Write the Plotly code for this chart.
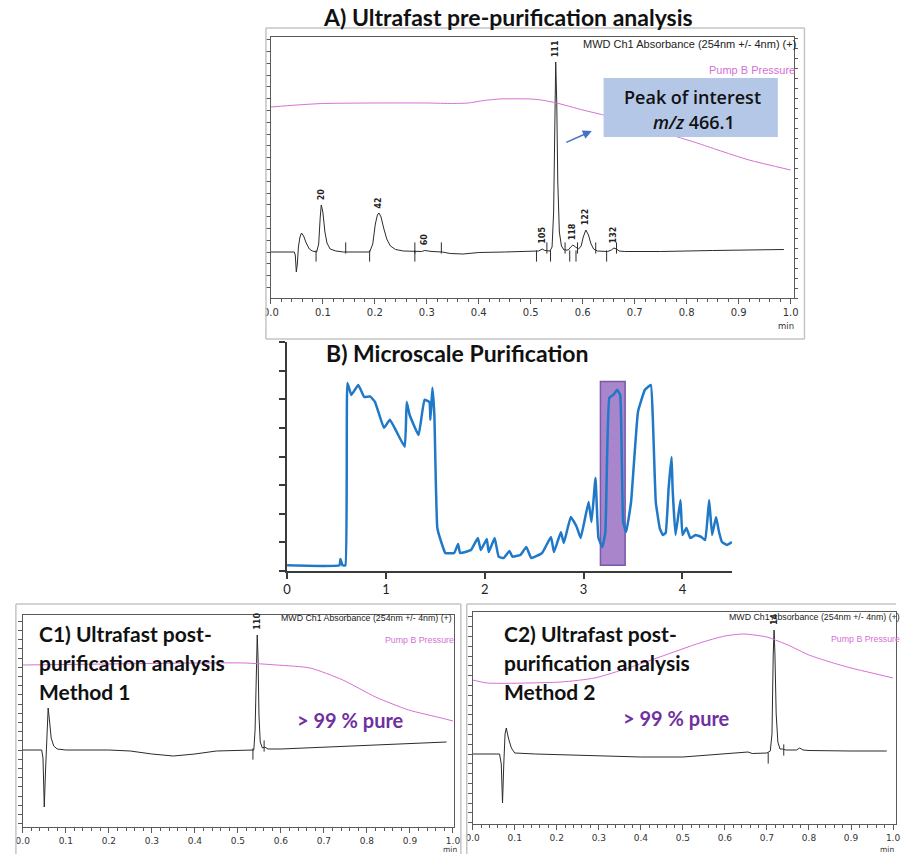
import plotly.graph_objects as go

W, H = 902, 854


def fx(px):
    return px / W


def fy(py):
    return 1 - py / H


def xdom(left, right):
    return [left / W, min(right / W, 1.0)]


def ydom(top, bottom):
    return [1 - bottom / H, 1 - top / H]


# ---------------- Panel A: ultrafast pre-purification analysis ----------------
a_time = [0.000, 0.045, 0.047, 0.049, 0.051, 0.053, 0.056, 0.059, 0.063, 0.068, 0.074, 0.080,
          0.088, 0.092, 0.095, 0.097, 0.100, 0.104, 0.108, 0.114, 0.125, 0.140,
          0.190, 0.196, 0.201, 0.205, 0.208, 0.212, 0.217, 0.223, 0.230, 0.240, 0.255, 0.275,
          0.290, 0.296, 0.310, 0.330, 0.345, 0.370, 0.400, 0.450, 0.500, 0.515, 0.522, 0.527,
          0.537, 0.541, 0.544, 0.546, 0.548, 0.550, 0.552, 0.555, 0.559, 0.564,
          0.572, 0.577, 0.581, 0.586, 0.592, 0.597, 0.601, 0.606, 0.611, 0.616, 0.621, 0.628,
          0.640, 0.648, 0.655, 0.660, 0.665, 0.670, 0.680, 0.750, 0.850, 0.950, 0.987]
a_abs = [0, 0, -3, -20, -12, 5, 15, 19, 16, 9, 3, 1,
         0, 8, 35, 47, 40, 20, 9, 3, 1, 0,
         0, 8, 28, 37, 39, 35, 24, 13, 6, 2.5, 1, 0.5,
         0.5, 1.5, 0.5, 0, -1.5, -2, -0.5, 0, 0.5, 1, 3, 1.5,
         1, 5, 40, 150, 190, 150, 70, 20, 6, 2,
         2, 5, 7, 5, 3, 6, 15, 22, 17, 8, 3, 1,
         0.5, 0.5, 2, 4, 3, 1, 0.5, 0.5, 1.5, 2, 2.5]

a_pres_time = [0.00, 0.05, 0.10, 0.20, 0.30, 0.35, 0.38, 0.41, 0.44, 0.50, 0.52, 0.55,
               0.60, 0.64, 0.70, 0.77, 0.82, 0.86, 0.92, 1.00]
a_pres = [191, 193, 194.5, 195, 195, 194.5, 195, 197.5, 199, 199, 198, 195,
          188, 183, 174, 163, 155, 148, 138, 128]

a_peak_time = [0.097, 0.208, 0.296, 0.522, 0.548, 0.581, 0.606, 0.660]
a_peak_apex = [47, 39, 1.5, 3, 190, 7, 22, 4]
a_peak_id = ["20", "42", "60", "105", "111", "118", "122", "132"]

a_event_down = [0.087, 0.190, 0.277, 0.511, 0.538, 0.575, 0.587, 0.646]
a_event_up = [0.144, 0.277, 0.328, 0.531, 0.566, 0.590, 0.625, 0.665]

# ---------------- Panel B: microscale purification ----------------
b_time = [0.00, 0.53, 0.54, 0.56, 0.59, 0.61, 0.65, 0.72, 0.78, 0.84, 0.89, 0.98, 1.04,
          1.19, 1.21, 1.24, 1.33, 1.39, 1.44, 1.45, 1.47, 1.49, 1.52, 1.58, 1.60, 1.69,
          1.73, 1.75, 1.86, 1.93, 1.96, 2.02, 2.04, 2.10, 2.14, 2.19, 2.25, 2.28, 2.36,
          2.42, 2.47, 2.58, 2.67, 2.70, 2.77, 2.80, 2.87, 2.93, 2.97, 3.05, 3.08, 3.12,
          3.15, 3.19, 3.22, 3.26, 3.30, 3.34, 3.37, 3.40, 3.43, 3.48, 3.55, 3.62, 3.68,
          3.70, 3.73, 3.77, 3.80, 3.83, 3.86, 3.89, 3.90, 3.93, 3.98, 4.00, 4.04, 4.08,
          4.13, 4.19, 4.23, 4.27, 4.30, 4.34, 4.37, 4.40, 4.45, 4.50]
b_signal = [0.2, 0.2, 0.42, 0.2, 0.2, 6.57, 6.15, 6.5, 6.08, 6.1, 5.9, 5.0, 5.28,
            4.34, 5.9, 5.45, 4.75, 5.98, 5.9, 5.28, 6.4, 5.45, 1.5, 0.8, 0.63, 0.63,
            0.94, 0.63, 0.73, 1.15, 0.73, 1.12, 0.66, 1.15, 0.5, 0.45, 0.7, 0.5, 0.56,
            0.84, 0.45, 0.63, 1.19, 0.66, 1.36, 0.98, 1.89, 1.54, 1.15, 2.41, 1.71, 3.25,
            1.15, 0.84, 1.36, 6.05, 6.15, 6.33, 6.15, 1.71, 1.36, 2.41, 5.56, 6.33, 6.5,
            5.35, 2.41, 1.5, 1.26, 1.33, 2.9, 3.98, 2.9, 1.26, 2.48, 1.26, 1.5, 1.15,
            1.26, 1.19, 1.08, 2.48, 1.26, 1.89, 1.36, 1.01, 0.91, 1.01]
b_fraction_time = [3.17, 3.42]
b_fraction_signal = [0.2, 6.62]

# ---------------- Panel C1: post-purification, method 1 ----------------
c1_time = [0.000, 0.044, 0.047, 0.050, 0.053, 0.056, 0.059, 0.062, 0.066, 0.072, 0.080, 0.100,
           0.200, 0.250, 0.300, 0.350, 0.400, 0.450, 0.500, 0.537, 0.540, 0.543, 0.545,
           0.547, 0.549, 0.552, 0.557, 0.562, 0.570, 0.600, 0.700, 0.800, 0.900, 0.985]
c1_abs = [0, 0, -8, -57, -20, 15, 42, 30, 12, 4, 1, 0,
          0, -1, -4, -6, -4, -1, 0, 0, 20, 90, 115,
          90, 35, 8, 2, 3, 1, 1, 3, 5, 7, 8]
c1_pres_time = [0.00, 0.20, 0.40, 0.515, 0.59, 0.668, 0.744, 0.82, 0.897, 0.973, 1.00]
c1_pres = [162, 163, 164, 164, 162, 159, 147, 130, 117, 109, 106]
c1_peak_time = [0.545]
c1_peak_apex = [115]
c1_peak_id = ["110"]
c1_event_down = [0.535]
c1_event_up = [0.561]

# ---------------- Panel C2: post-purification, method 2 ----------------
c2_time = [0.000, 0.064, 0.068, 0.071, 0.074, 0.077, 0.080, 0.085, 0.092, 0.100, 0.150,
           0.250, 0.300, 0.400, 0.500, 0.600, 0.640, 0.655, 0.665, 0.700, 0.708, 0.712,
           0.715, 0.717, 0.719, 0.722, 0.726, 0.731, 0.737, 0.745, 0.770, 0.778, 0.786,
           0.800, 0.900, 0.985]
c2_abs = [0, 0, -10, -49, -10, 20, 26, 16, 6, 1, 0,
          -1, -2, -3, -3, 0, 1, 2, 0.5, 1, 3, 20,
          100, 124, 100, 40, 12, 5, 5, 4, 4, 6, 4,
          3.5, 3, 3]
c2_pres_time = [0.00, 0.035, 0.21, 0.29, 0.37, 0.445, 0.54, 0.60, 0.645, 0.70, 0.72, 0.75,
                0.80, 0.85, 0.90, 0.95, 1.00]
c2_pres = [144, 141, 142, 146, 156, 167, 181, 188, 190, 187, 184, 179,
           169, 162, 156, 151, 146]
c2_peak_time = [0.717]
c2_peak_apex = [124]
c2_peak_id = ["14"]
c2_event_down = [0.703]
c2_event_up = [0.740]

UV_COLOR = "#2b2b2b"
PRES_COLOR = "#d46fd4"
AXIS_COLOR = "#5a5a5a"
TICK_FONT = dict(family="DejaVu Sans", size=9, color="#333333")
BIG_TITLE_FONT = dict(family="Lato", size=23, color="#111111")
SUB_TITLE_FONT = dict(family="Lato", size=21, color="#111111")

fig = go.Figure()


def chromatogram(t, v, xa, ya):
    fig.add_trace(go.Scatter(x=t, y=v, xaxis=xa, yaxis=ya, mode="lines",
                             line=dict(color=UV_COLOR, width=1), hoverinfo="skip"))


def pressure(t, v, xa, ya):
    fig.add_trace(go.Scatter(x=t, y=v, xaxis=xa, yaxis=ya, mode="lines",
                             line=dict(color=PRES_COLOR, width=1, shape="spline",
                                       smoothing=0.6),
                             hoverinfo="skip"))


def events(down, up, xa, ya):
    fig.add_trace(go.Scatter(x=down, y=[-4] * len(down), xaxis=xa, yaxis=ya, mode="markers",
                             marker=dict(symbol="line-ns", size=8,
                                         line=dict(color=UV_COLOR, width=1)),
                             hoverinfo="skip"))
    fig.add_trace(go.Scatter(x=up, y=[4] * len(up), xaxis=xa, yaxis=ya, mode="markers",
                             marker=dict(symbol="line-ns", size=8,
                                         line=dict(color=UV_COLOR, width=1)),
                             hoverinfo="skip"))


# Panel A traces
pressure(a_pres_time, a_pres, "x", "y2")
chromatogram(a_time, a_abs, "x", "y")
events(a_event_down, a_event_up, "x", "y")

# Panel B trace
fig.add_trace(go.Scatter(x=b_time, y=b_signal, xaxis="x3", yaxis="y3", mode="lines",
                         line=dict(color="#1f78c8", width=2.5, shape="spline",
                                   smoothing=0.3),
                         hoverinfo="skip"))

# Panel C1 traces
pressure(c1_pres_time, c1_pres, "x4", "y5")
chromatogram(c1_time, c1_abs, "x4", "y4")
events(c1_event_down, c1_event_up, "x4", "y4")

# Panel C2 traces
pressure(c2_pres_time, c2_pres, "x6", "y7")
chromatogram(c2_time, c2_abs, "x6", "y6")
events(c2_event_down, c2_event_up, "x6", "y6")


def time_axis(domain, span, anchor, font_size=9):
    return dict(domain=domain, range=[0, span], anchor=anchor, showline=True,
                linecolor=AXIS_COLOR, linewidth=1, mirror=True, ticks="outside",
                ticklen=5, tickcolor=AXIS_COLOR, tick0=0, dtick=0.1, tickformat=".1f",
                minor=dict(dtick=0.02, ticks="outside", ticklen=3, tickcolor=AXIS_COLOR),
                tickfont=dict(TICK_FONT, size=font_size), showgrid=False, zeroline=False,
                fixedrange=True)


def signal_axis(domain, rng, anchor, dtick, mirror=False):
    return dict(domain=domain, range=rng, anchor=anchor, showline=True,
                linecolor=AXIS_COLOR, linewidth=1, mirror=mirror, ticks="outside",
                ticklen=4, tickcolor=AXIS_COLOR, tick0=0, dtick=dtick,
                showticklabels=False, showgrid=False, zeroline=False, fixedrange=True)


layout = dict(
    width=W, height=H, margin=dict(l=0, r=0, t=0, b=0),
    paper_bgcolor="white", plot_bgcolor="rgba(0,0,0,0)", showlegend=False,
    xaxis=time_axis(xdom(267, 798), 531 / 528, "y", 10),
    yaxis=signal_axis(ydom(37, 298), [-46, 215], "x", 11.8),
    yaxis2=dict(overlaying="y", side="right", anchor="x", range=[0, 261], showline=True,
                linecolor=AXIS_COLOR, linewidth=1, ticks="outside", ticklen=3,
                tickcolor=AXIS_COLOR, dtick=10, showticklabels=False, showgrid=False,
                zeroline=False, fixedrange=True),
    xaxis3=dict(domain=xdom(283.5, 735.3), range=[0, 4.5], anchor="y3", showline=True,
                linecolor="#3a3a3a", linewidth=1.5, ticks="outside", ticklen=6,
                tickcolor="#3a3a3a", tickwidth=1.5, dtick=1, tick0=0,
                tickfont=dict(family="Lato", size=13, color="#222222"),
                showgrid=False, zeroline=False, fixedrange=True),
    yaxis3=dict(domain=ydom(342, 571), range=[0, 8], anchor="x3", showline=True,
                linecolor="#3a3a3a", linewidth=1.5, ticks="outside", ticklen=6,
                tickcolor="#3a3a3a", tickwidth=1.5, dtick=1, tick0=0,
                showticklabels=False, showgrid=False, zeroline=False, fixedrange=True),
    xaxis4=time_axis(xdom(15, 453), 438 / 437, "y4"),
    yaxis4=signal_axis(ydom(615, 827), [-77, 135], "x4", 9.2, mirror=True),
    yaxis5=dict(overlaying="y4", anchor="x4", range=[0, 212], visible=False,
                fixedrange=True),
    xaxis6=time_axis(xdom(472, 902), 430 / 427, "y6"),
    yaxis6=signal_axis(ydom(612, 824), [-70, 142], "x6", 9.8, mirror=True),
    yaxis7=dict(overlaying="y6", anchor="x6", range=[0, 212], visible=False,
                fixedrange=True),
)
fig.update_layout(**layout)

shapes = []


def frame_line(x0, y0, x1, y1, color="#c4c4c4", width=1.5):
    shapes.append(dict(type="line", xref="paper", yref="paper", x0=fx(x0), y0=fy(y0),
                       x1=fx(x1), y1=fy(y1), line=dict(color=color, width=width)))


# panel frames
frame_line(262, 28, 809, 28)
frame_line(262, 28, 262, 339)
frame_line(809, 28, 809, 339)
frame_line(262, 339, 809, 339)
frame_line(8, 604, 460, 604)
frame_line(8, 604, 8, 854)
frame_line(460, 604, 460, 854)
frame_line(466, 604, 902, 604)
frame_line(466, 604, 466, 854)

# white margins that trim the clipped tick labels at the left edges
shapes.append(dict(type="rect", xref="paper", yref="paper", x0=fx(240), x1=fx(261.2),
                   y0=fy(322), y1=fy(300), fillcolor="white", line=dict(width=0),
                   layer="above"))
shapes.append(dict(type="rect", xref="paper", yref="paper", x0=0, x1=fx(7.2),
                   y0=fy(850), y1=fy(830), fillcolor="white", line=dict(width=0),
                   layer="above"))

# collected fraction window
shapes.append(dict(type="rect", xref="x3", yref="y3",
                   x0=b_fraction_time[0], x1=b_fraction_time[1],
                   y0=b_fraction_signal[0], y1=b_fraction_signal[1],
                   fillcolor="#a985cc", line=dict(color="#7b58a8", width=1.5),
                   layer="below"))

# callout box
shapes.append(dict(type="rect", xref="paper", yref="paper", x0=fx(605), x1=fx(782),
                   y0=fy(137), y1=fy(78), fillcolor="#b4c7e7", line=dict(width=0),
                   layer="above"))
fig.update_layout(shapes=shapes)

ann = []


def text(x, y, s, font, xanchor="center", yanchor="middle"):
    ann.append(dict(x=fx(x), y=fy(y), xref="paper", yref="paper", text=s, showarrow=False,
                    font=font, xanchor=xanchor, yanchor=yanchor, borderpad=0))


text(508, 17, "<b>A) Ultrafast pre-purification analysis</b>", BIG_TITLE_FONT)
text(456, 353, "<b>B) Microscale Purification</b>", BIG_TITLE_FONT)

for left, label in [(30, "C1"), (503, "C2")]:
    method = "1" if label == "C1" else "2"
    text(left, 633, f"<b>{label}) Ultrafast post-</b>", SUB_TITLE_FONT, "left")
    text(left, 662, "<b>purification analysis</b>", SUB_TITLE_FONT, "left")
    text(left, 691, f"<b>Method {method}</b>", SUB_TITLE_FONT, "left")

PURE_FONT = dict(family="Lato", size=20, color="#7030a0")
text(293, 720, "<b>&gt; 99 % pure</b>", PURE_FONT, "left")
text(624, 718, "<b>&gt; 99 % pure</b>", PURE_FONT, "left")

BOX_FONT = dict(family="Open Sans", size=18, color="#111111", weight=600)
text(695, 97, "Peak of interest", BOX_FONT)
text(697, 122, "<i>m/z</i> 466.1", BOX_FONT)

MWD = "MWD Ch1 Absorbance (254nm +/- 4nm) (+)"
text(583, 44, MWD, dict(family="Liberation Sans", size=11, color="#222222"), "left")
text(711, 70, "Pump B Pressure", dict(family="Liberation Sans", size=11, color=PRES_COLOR), "left")
text(276, 618, MWD, dict(family="Liberation Sans", size=8.8, color="#222222"), "left")
text(382, 640, "Pump B Pressure", dict(family="Liberation Sans", size=8.8, color=PRES_COLOR), "left")
text(731, 617, MWD, dict(family="Liberation Sans", size=8.8, color="#222222"), "left")
text(835, 639, "Pump B Pressure", dict(family="Liberation Sans", size=8.8, color=PRES_COLOR), "left")

text(790, 326, "min", dict(family="DejaVu Sans", size=8.5, color="#333333"))
C_MIN_FONT = dict(family="DejaVu Sans", size=7.5, color="#333333")
text(449, 849.5, "min", C_MIN_FONT)
text(893, 849.5, "min", C_MIN_FONT)

# peak labels
PEAK_FONT = dict(family="DejaVu Sans", size=8, color="#222222", weight="bold")
for xa, ya, times, apex, ids in [("x", "y", a_peak_time, a_peak_apex, a_peak_id),
                                 ("x4", "y4", c1_peak_time, c1_peak_apex, c1_peak_id),
                                 ("x6", "y6", c2_peak_time, c2_peak_apex, c2_peak_id)]:
    for t, h, s in zip(times, apex, ids):
        ann.append(dict(x=t, y=h, xref=xa, yref=ya, text=s, showarrow=False,
                        textangle=-90, font=PEAK_FONT, xanchor="center",
                        yanchor="bottom", yshift=3))

# arrow pointing at the main peak callout
ann.append(dict(x=fx(593), y=fy(131), xref="paper", yref="paper", text="",
                showarrow=True, ax=-27, ay=12, arrowhead=2, arrowsize=1.2,
                arrowwidth=1.5, arrowcolor="#4472c4"))

fig.update_layout(annotations=ann)

fig.write_html("out.html")
